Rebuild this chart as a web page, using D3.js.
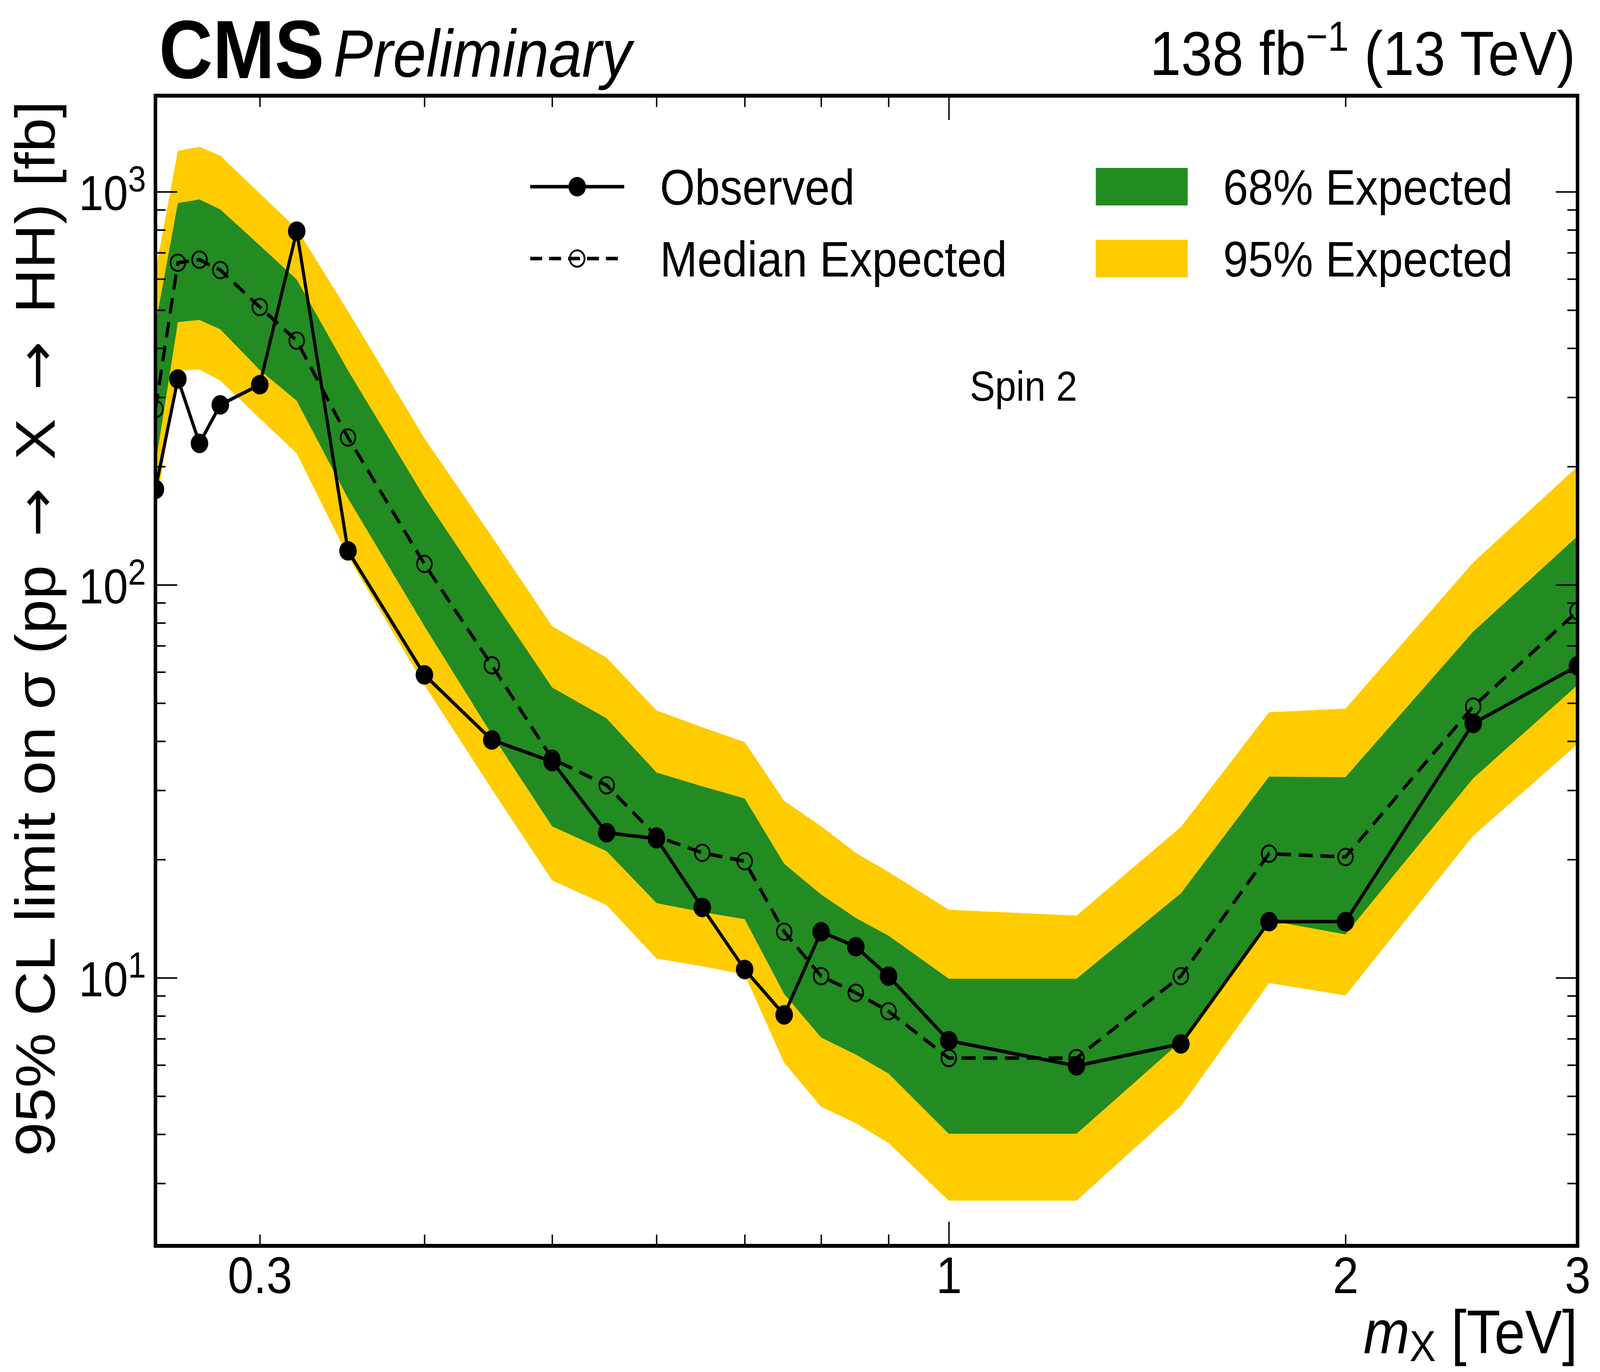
<!DOCTYPE html>
<html>
<head>
<meta charset="utf-8">
<script src="https://cdn.jsdelivr.net/npm/d3@7"></script>
<style>
html, body { margin: 0; padding: 0; background: #fff; overflow: hidden; }
svg { display: block; font-family: "Liberation Sans", Arial, Helvetica, sans-serif; }
</style>
</head>
<body>
<script>
// resonance mass points [TeV]
const massTeV = [0.25, 0.26, 0.27, 0.28, 0.30, 0.32, 0.35, 0.40, 0.45, 0.50, 0.55, 0.60, 0.65,
                 0.70, 0.75, 0.80, 0.85, 0.90, 1.0, 1.25, 1.5, 1.75, 2.0, 2.5, 3.0];

// 95% CL limits [fb]
const observed  = [175, 334, 229, 287, 323, 794, 122, 59, 40.3, 35.5, 23.4, 22.6, 15.1,
                   10.5, 8.05, 13.1, 12.0, 10.1, 6.92, 5.97, 6.79, 13.9, 13.9, 44.4, 62.2];
const expMedian = [280, 660, 672, 632, 509, 418, 237, 113, 62.4, 36.1, 30.9, 22.9, 20.8,
                   19.8, 13.1, 10.1, 9.16, 8.22, 6.25, 6.25, 10.1, 20.7, 20.3, 49.0, 85.7];
const exp68Hi   = [459, 936, 956, 902, 730, 598, 351, 167, 92.5, 54.8, 45.7, 33.3, 30.7,
                   28.6, 19.5, 16.3, 14.2, 12.8, 9.95, 9.95, 16.4, 32.5, 32.4, 76.0, 133];
const exp68Lo   = [202, 466, 472, 447, 352, 294, 166, 78.5, 41.6, 24.3, 21.0, 15.5, 14.7,
                   14.1, 9.10, 7.05, 6.38, 5.71, 4.01, 4.01, 6.89, 14.0, 12.9, 32.2, 55.6];
const exp95Hi   = [628, 1271, 1301, 1236, 990, 806, 497, 236, 132.7, 78.5, 65.2, 47.9, 43.4,
                   39.8, 28.2, 24.3, 20.8, 18.6, 14.9, 14.4, 24.2, 47.4, 48.4, 114, 200];
const exp95Lo   = [153, 351, 353, 331, 265, 216, 118, 55.6, 30.2, 17.7, 15.3, 11.2, 10.7,
                   10.2, 6.08, 4.70, 4.27, 3.80, 2.71, 2.71, 4.71, 9.70, 9.02, 23.0, 39.3];

const xTickLabels = [0.3, 1, 2, 3];
const xMajorTicks = [1];
const yMajorTicks = [10, 100, 1000];

const legendLines = ['Observed', 'Median Expected'];
const legendBands = ['68% Expected', '95% Expected'];

const width = 4560;
const height = 3513;
const plot = {left: 443, right: 4496, top: 245, bottom: 3190};

const green = '#228b22';
const yellow = '#ffcc00';

// the window can be narrower than 4560, so the drawing is fitted to it
let svg = d3.select('body')
            .append('svg')
            .attr('viewBox', `0 0 ${width} ${height}`)
            .attr('preserveAspectRatio', 'none')
            .style('width', '100vw')
            .style('height', '100vh');

const x = d3.scaleLog().domain([0.25, 3]).range([plot.left, plot.right]);
const y = d3.scaleLog().domain([2.08, 1756]).range([plot.bottom, plot.top]);

const rows = massTeV.map((m, i) => ({
    m: m, obs: observed[i], med: expMedian[i],
    lo68: exp68Lo[i], hi68: exp68Hi[i], lo95: exp95Lo[i], hi95: exp95Hi[i]
}));

svg.append('clipPath')
   .attr('id', 'plotclip')
   .append('rect')
   .attr('x', plot.left).attr('y', plot.top)
   .attr('width', plot.right - plot.left)
   .attr('height', plot.bottom - plot.top);

const gData = svg.append('g').attr('clip-path', 'url(#plotclip)');

// bands
gData.append('path')
     .datum(rows)
     .attr('fill', yellow)
     .attr('d', d3.area().x(d => x(d.m)).y0(d => y(d.lo95)).y1(d => y(d.hi95)));
gData.append('path')
     .datum(rows)
     .attr('fill', green)
     .attr('d', d3.area().x(d => x(d.m)).y0(d => y(d.lo68)).y1(d => y(d.hi68)));

// median expected
gData.append('path')
     .datum(rows)
     .attr('fill', 'none')
     .attr('stroke', '#000')
     .attr('stroke-width', 9)
     .attr('stroke-dasharray', '40,22')
     .attr('d', d3.line().x(d => x(d.m)).y(d => y(d.med)));
gData.selectAll('circle.med')
     .data(rows)
     .enter()
     .append('circle')
     .attr('class', 'med')
     .attr('cx', d => x(d.m))
     .attr('cy', d => y(d.med))
     .attr('r', 21)
     .attr('fill', 'none')
     .attr('stroke', '#000')
     .attr('stroke-width', 5);

// observed
gData.append('path')
     .datum(rows)
     .attr('fill', 'none')
     .attr('stroke', '#000')
     .attr('stroke-width', 9)
     .attr('d', d3.line().x(d => x(d.m)).y(d => y(d.obs)));
gData.selectAll('circle.obs')
     .data(rows)
     .enter()
     .append('circle')
     .attr('class', 'obs')
     .attr('cx', d => x(d.m))
     .attr('cy', d => y(d.obs))
     .attr('r', 25)
     .attr('fill', '#000');

// ticks
const xMinor = x.ticks().filter(v => !xMajorTicks.includes(v));
const yMinor = y.ticks().filter(v => !yMajorTicks.includes(v));

function tickGroup(axis, tx, ty) {
    let g = svg.append('g')
               .attr('transform', `translate(${tx},${ty})`)
               .call(axis);
    g.select('.domain').remove();
    g.selectAll('line').attr('stroke-width', 4);
    return g;
}

tickGroup(d3.axisBottom(x).tickValues(xMinor).tickSize(-29).tickFormat(''), 0, plot.bottom);
tickGroup(d3.axisBottom(x).tickValues(xMajorTicks).tickSize(-62).tickFormat(''), 0, plot.bottom);
tickGroup(d3.axisTop(x).tickValues(xMinor).tickSize(-29).tickFormat(''), 0, plot.top);
tickGroup(d3.axisTop(x).tickValues(xMajorTicks).tickSize(-62).tickFormat(''), 0, plot.top);
tickGroup(d3.axisLeft(y).tickValues(yMinor).tickSize(-29).tickFormat(''), plot.left, 0);
tickGroup(d3.axisLeft(y).tickValues(yMajorTicks).tickSize(-62).tickFormat(''), plot.left, 0);
tickGroup(d3.axisRight(y).tickValues(yMinor).tickSize(-29).tickFormat(''), plot.right, 0);
tickGroup(d3.axisRight(y).tickValues(yMajorTicks).tickSize(-62).tickFormat(''), plot.right, 0);

// tick labels
let xl = tickGroup(d3.axisBottom(x).tickValues(xTickLabels).tickSize(0).tickPadding(27)
                     .tickFormat(d3.format('~g')), 0, plot.bottom);
xl.attr('font-size', 132).attr('font-family', null);
xl.selectAll('text').attr('fill', '#000');

let yl = tickGroup(d3.axisLeft(y).tickValues(yMajorTicks).tickSize(0).tickPadding(27)
                     .tickFormat(''), plot.left, 0);
yl.attr('font-size', 126).attr('font-family', null);
yl.selectAll('text')
  .attr('fill', '#000')
  .attr('dy', '0.37em')
  .each(function(d) {
      let t = d3.select(this);
      t.append('tspan').text('10');
      t.append('tspan').attr('font-size', 92).attr('dy', '-0.52em').text(Math.round(Math.log10(d)));
  });

// frame
svg.append('rect')
   .attr('x', plot.left).attr('y', plot.top)
   .attr('width', plot.right - plot.left)
   .attr('height', plot.bottom - plot.top)
   .attr('fill', 'none')
   .attr('stroke', '#000')
   .attr('stroke-width', 10);

// axis titles
let yt = svg.append('text')
            .attr('transform', `translate(156,258) rotate(-90)`)
            .attr('text-anchor', 'end')
            .attr('font-size', 158);
yt.append('tspan').text('95% CL limit on \u03c3 (pp');
yt.append('tspan').attr('dx', 72).attr('font-family', 'DejaVu Sans').attr('font-size', 150).text('\u2192');
yt.append('tspan').attr('dx', 72).text('X');
yt.append('tspan').attr('dx', 72).attr('font-family', 'DejaVu Sans').attr('font-size', 150).text('\u2192');
yt.append('tspan').attr('dx', 72).text('HH) [fb]');

let xt = svg.append('text')
            .attr('x', plot.right)
            .attr('y', 3465)
            .attr('text-anchor', 'end')
            .attr('font-size', 158);
xt.append('tspan').attr('font-style', 'italic').text('m');
xt.append('tspan').attr('font-size', 112).attr('dy', 20).text('X');
xt.append('tspan').attr('dy', -20).text(' [TeV]');

// header
svg.append('text')
   .attr('x', 453).attr('y', 200)
   .attr('font-size', 212)
   .attr('font-weight', 'bold')
   .text('CMS');
svg.append('text')
   .attr('x', 950).attr('y', 196)
   .attr('font-size', 170)
   .attr('font-style', 'italic')
   .text('Preliminary');
let lumi = svg.append('text')
              .attr('x', 4490).attr('y', 192)
              .attr('text-anchor', 'end')
              .attr('font-size', 160);
lumi.append('tspan').text('138 fb');
lumi.append('tspan').attr('font-size', 107).attr('dy', -62).text('\u22121');
lumi.append('tspan').attr('dy', 62).text(' (13 TeV)');

// legend
const rowY = [478, 662];
svg.append('line')
   .attr('x1', 1511).attr('x2', 1779).attr('y1', rowY[0]).attr('y2', rowY[0])
   .attr('stroke', '#000').attr('stroke-width', 9);
svg.append('circle')
   .attr('cx', 1645).attr('cy', rowY[0]).attr('r', 25).attr('fill', '#000');
svg.append('line')
   .attr('x1', 1511).attr('x2', 1779).attr('y1', rowY[1]).attr('y2', rowY[1])
   .attr('stroke', '#000').attr('stroke-width', 9).attr('stroke-dasharray', '34,20');
svg.append('circle')
   .attr('cx', 1645).attr('cy', rowY[1]).attr('r', 21)
   .attr('fill', 'none').attr('stroke', '#000').attr('stroke-width', 5);

svg.selectAll('text.leglines')
   .data(legendLines)
   .enter()
   .append('text')
   .attr('class', 'leglines')
   .attr('x', 1881)
   .attr('y', (d, i) => rowY[i] + 46)
   .attr('font-size', 128)
   .text(d => d);

svg.selectAll('rect.legbox')
   .data(legendBands)
   .enter()
   .append('rect')
   .attr('class', 'legbox')
   .attr('x', 3123)
   .attr('y', (d, i) => rowY[i] - 48)
   .attr('width', 262)
   .attr('height', 96)
   .attr('fill', (d, i) => i === 0 ? green : yellow);

svg.selectAll('text.legbands')
   .data(legendBands)
   .enter()
   .append('text')
   .attr('class', 'legbands')
   .attr('x', 3486)
   .attr('y', (d, i) => rowY[i] + 46)
   .attr('font-size', 128)
   .text(d => d);

svg.append('text')
   .attr('x', 2917).attr('y', 1026)
   .attr('text-anchor', 'middle')
   .attr('font-size', 108)
   .text('Spin 2');
</script>
</body>
</html>
